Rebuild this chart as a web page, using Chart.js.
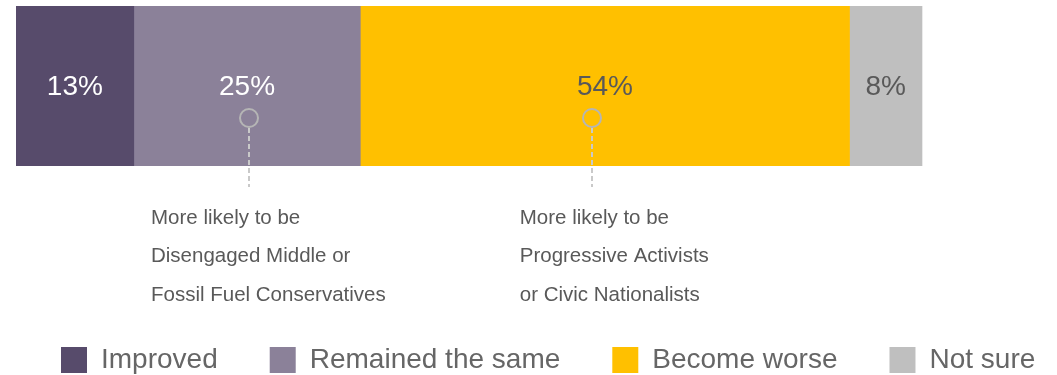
<!DOCTYPE html>
<html>
<head>
<meta charset="utf-8">
<script src="https://cdn.jsdelivr.net/npm/chart.js@4/dist/chart.umd.min.js"></script>
<style>
    html, body { margin: 0; padding: 0; background: #ffffff; }
    canvas { display: block; }
</style>
</head>
<body>
<canvas id="changePlot" width="1057" height="375"></canvas>
<script>
// one stacked row, shares in percent
const categories = [""];
const seriesNames = ["Improved", "Remained the same", "Become worse", "Not sure"];
const improved = [13];
const remainedSame = [25];
const becomeWorse = [54];
const notSure = [8];

const seriesColors = ["#574b6b", "#8b8199", "#ffc000", "#bfbfbf"];
const valueColors = ["#ffffff", "#ffffff", "#595959", "#595959"];

// notes hanging under the bar; "at" / "textAt" are in x-axis units
const notes = [
    {at: 25.7, textAt: 14.9, lines: ["More likely to be", "Disengaged Middle or", "Fossil Fuel Conservatives"]},
    {at: 63.6, textAt: 55.6, lines: ["More likely to be", "Progressive Activists", "or Civic Nationalists"]}
];

const fontFamily = "'Liberation Sans', Arial, Helvetica, sans-serif";
Chart.defaults.font.family = fontFamily;

// percentage printed in the middle of every segment
const segmentValues = {
    id: "segmentValues",
    afterDatasetsDraw: function (chart) {
        const ctx = chart.ctx;
        ctx.save();
        ctx.font = "28px " + fontFamily;
        ctx.textAlign = "center";
        ctx.textBaseline = "middle";
        chart.data.datasets.forEach(function (ds, i) {
            chart.getDatasetMeta(i).data.forEach(function (bar, j) {
                ctx.fillStyle = valueColors[i];
                ctx.fillText(ds.data[j] + "%", (bar.x + bar.base) / 2, bar.y + 1);
            });
        });
        ctx.restore();
    }
};

// ring marker, dashed leader and the text block for each note
const noteMarkers = {
    id: "noteMarkers",
    afterDraw: function (chart) {
        const ctx = chart.ctx;
        const xScale = chart.scales.x;
        const area = chart.chartArea;
        ctx.save();
        notes.forEach(function (note) {
            const px = Math.round(xScale.getPixelForValue(note.at));
            const cy = area.bottom - 48;

            ctx.lineWidth = 2;
            ctx.strokeStyle = "#c9c9c9";
            ctx.setLineDash([5, 3]);
            ctx.beginPath();
            ctx.moveTo(px, cy + 10);
            ctx.lineTo(px, area.bottom + 21);
            ctx.stroke();

            ctx.setLineDash([]);
            ctx.strokeStyle = "#b5b5b5";
            ctx.beginPath();
            ctx.arc(px, cy, 9, 0, Math.PI * 2);
            ctx.stroke();

            const tx = xScale.getPixelForValue(note.textAt);
            ctx.fillStyle = "#595959";
            ctx.font = "20.5px " + fontFamily;
            ctx.textAlign = "left";
            ctx.textBaseline = "middle";
            note.lines.forEach(function (line, k) {
                ctx.fillText(line, tx, area.bottom + 52 + k * 38.5);
            });
        });
        ctx.restore();
    }
};

const seriesData = [improved, remainedSame, becomeWorse, notSure];
const datasets = seriesNames.map(function (name, i) {
    return {
        label: name,
        data: seriesData[i],
        backgroundColor: seriesColors[i],
        borderColor: seriesColors[i],
        borderWidth: 0,
        barPercentage: 1,
        categoryPercentage: 1
    };
});

const ctx = document.getElementById("changePlot").getContext("2d");
const changeChart = new Chart(ctx, {
    type: "bar",
    data: {
        labels: categories,
        datasets: datasets
    },
    options: {
        indexAxis: "y",
        responsive: false,
        animation: false,
        layout: {
            padding: {top: 6, left: 9, right: -60, bottom: 0}
        },
        scales: {
            x: {
                stacked: true,
                min: 0,
                max: 114.9,
                ticks: {display: false},
                grid: {display: false},
                border: {display: false},
                afterFit: function (scale) {
                    scale.height = 128; // room for the notes under the bar
                }
            },
            y: {
                stacked: true,
                ticks: {display: false},
                grid: {display: false},
                border: {display: false},
                afterFit: function (scale) {
                    scale.width = 7;
                }
            }
        },
        plugins: {
            tooltip: {enabled: false},
            legend: {
                position: "bottom",
                align: "start",
                maxHeight: 81,
                labels: {
                    boxWidth: 26,
                    boxHeight: 26,
                    padding: 52,
                    color: "#666666",
                    font: {family: fontFamily, size: 28}
                }
            }
        }
    },
    plugins: [segmentValues, noteMarkers]
});
</script>
</body>
</html>
